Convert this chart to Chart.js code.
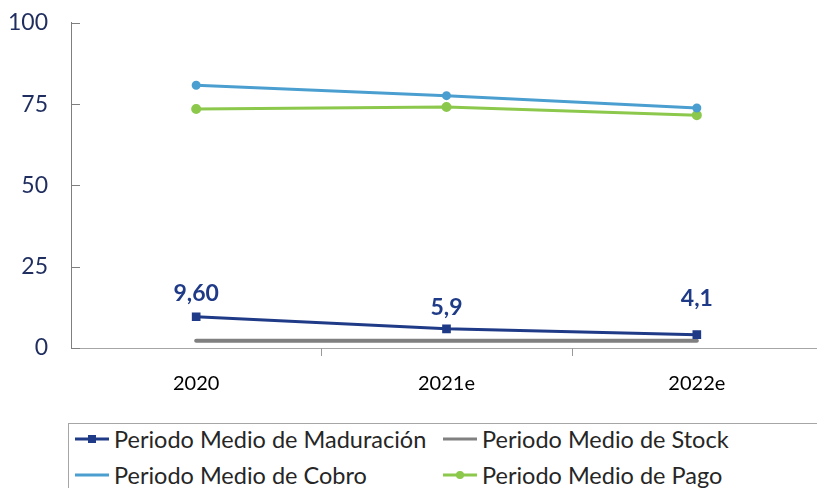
<!DOCTYPE html>
<html><head><meta charset="utf-8">
<script src="https://cdn.jsdelivr.net/npm/chart.js@4.4.1/dist/chart.umd.min.js"></script>
<style>
html,body{margin:0;padding:0;background:#fff;overflow:hidden;width:817px;height:488px;}
#wrap{position:absolute;left:0;top:-14px;width:829px;height:434px;}
#legend{position:absolute;left:68px;top:423px;width:760px;height:70px;border:1.5px solid #a6a6a6;border-right:none;border-bottom:none;font-family:Lato,"Open Sans",sans-serif;font-size:23.5px;color:#262626;}
.item{position:absolute;display:flex;align-items:center;white-space:nowrap;}
.item canvas{margin-right:3px;}
</style></head>
<body>
<div id="wrap"><canvas id="c" width="829" height="434"></canvas></div>
<div id="legend"></div>
<script>
const categories = ['2020', '2021e', '2022e'];
const maduracion = [9.6, 5.9, 4.1];
const maduracionLabels = ['9,60', '5,9', '4,1'];
const stock = [2.2, 2.2, 2.2];
const cobro = [80.8, 77.6, 73.8];
const pago = [73.5, 74.1, 71.6];
const seriesNames = ['Periodo Medio de Maduración', 'Periodo Medio de Stock', 'Periodo Medio de Cobro', 'Periodo Medio de Pago'];
const yTicks = [0, 25, 50, 75, 100];

const NAVY = '#1f3a87', GRAY = '#808080', BLUE = '#4a9fd0', GREEN = '#8cc84b';

const axisPlugin = {
  id: 'axisTicks',
  afterDraw(chart) {
    const ctx = chart.ctx, ys = chart.scales.y, xs = chart.scales.x, ca = chart.chartArea;
    ctx.save();
    ctx.strokeStyle = '#7f7f7f'; ctx.lineWidth = 1;
    yTicks.forEach(v => {
      const y = Math.round(ys.getPixelForValue(v)) + 0.5;
      ctx.beginPath(); ctx.moveTo(ca.left, y); ctx.lineTo(ca.left + 9, y); ctx.stroke();
    });
    ctx.strokeStyle = '#999';
    for (let i = 1; i < categories.length; i++) {
      const x = Math.round((xs.getPixelForValue(i - 1) + xs.getPixelForValue(i)) / 2) + 0.5;
      ctx.beginPath(); ctx.moveTo(x, ca.bottom); ctx.lineTo(x, ca.bottom + 8); ctx.stroke();
    }
    const meta = chart.getDatasetMeta(0);
    const offs = chart.options.plugins.axisTicks.offsets;
    ctx.fillStyle = NAVY;
    ctx.font = 'bold 23px Lato, "Open Sans", sans-serif';
    ctx.textAlign = 'center'; ctx.textBaseline = 'middle';
    meta.data.forEach((pt, i) => {
      ctx.fillText(maduracionLabels[i], pt.x, pt.y - offs[i]);
    });
    ctx.restore();
  }
};

const chart = new Chart(document.getElementById('c'), {
  type: 'line',
  data: {
    labels: categories,
    datasets: [
      {label: seriesNames[0], data: maduracion, borderColor: NAVY, backgroundColor: NAVY, borderWidth: 3, pointStyle: 'rect', pointRadius: 4, order: 0},
      {label: seriesNames[1], data: stock, borderColor: GRAY, backgroundColor: GRAY, borderWidth: 4, pointRadius: 0, borderCapStyle: 'round', order: 1},
      {label: seriesNames[2], data: cobro, borderColor: BLUE, backgroundColor: BLUE, borderWidth: 3, pointStyle: 'circle', pointRadius: 3, order: 0},
      {label: seriesNames[3], data: pago, borderColor: GREEN, backgroundColor: GREEN, borderWidth: 3, pointStyle: 'circle', pointRadius: 3.5, order: 1}
    ]
  },
  options: {
    responsive: false,
    animation: false,
    layout: {padding: {top: 9, left: 0, right: 0, bottom: 0}},
    plugins: {legend: {display: false}, tooltip: {enabled: false}, axisTicks: {offsets: [23, 21, 36]}},
    scales: {
      x: {
        offset: true,
        grid: {display: false, drawTicks: false},
        border: {display: true, color: '#a6a6a6', width: 1},
        ticks: {color: '#000', font: {family: 'Lato, "Open Sans", sans-serif', size: 20}, padding: 24},
        afterFit(s) { s.height = 72; }
      },
      y: {
        min: 0, max: 100,
        grid: {display: false, drawTicks: false},
        border: {display: true, color: '#7f7f7f', width: 1},
        ticks: {stepSize: 25, color: '#1f2d5f', font: {family: 'Lato, "Open Sans", sans-serif', size: 23}, padding: 23},
        afterFit(s) { s.width = 71; }
      }
    }
  },
  plugins: [axisPlugin]
});

const legend = document.getElementById('legend');
const pos = [[4, 0], [372, 0], [4, 36], [372, 36]];
chart.data.datasets.forEach((ds, i) => {
  const d = document.createElement('div');
  d.className = 'item';
  d.style.left = pos[i][0] + 'px';
  d.style.top = (pos[i][1] + 1) + 'px';
  const m = document.createElement('canvas');
  m.width = 38; m.height = 14;
  const c = m.getContext('2d');
  c.strokeStyle = ds.borderColor; c.lineWidth = 3;
  c.beginPath(); c.moveTo(2, 7); c.lineTo(36, 7); c.stroke();
  c.fillStyle = ds.borderColor;
  if (ds.pointStyle === 'rect') c.fillRect(15, 3, 8, 8);
  else if (ds.pointRadius > 3) { c.beginPath(); c.arc(19, 7, 4, 0, Math.PI * 2); c.fill(); }
  d.appendChild(m);
  const t = document.createElement('span');
  t.textContent = ds.label;
  d.appendChild(t);
  legend.appendChild(d);
});
</script>
</body></html>
